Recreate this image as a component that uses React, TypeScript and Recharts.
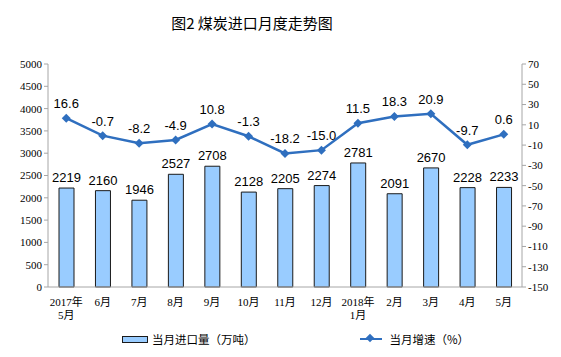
import React from 'react';
import { ComposedChart, Bar, Line, XAxis, YAxis, LabelList } from 'recharts';

const months = ['2017年\n5月', '6月', '7月', '8月', '9月', '10月', '11月', '12月', '2018年\n1月', '2月', '3月', '4月', '5月'];
const imports = [2219, 2160, 1946, 2527, 2708, 2128, 2205, 2274, 2781, 2091, 2670, 2228, 2233];
const growth = [16.6, -0.7, -8.2, -4.9, 10.8, -1.3, -18.2, -15.0, 11.5, 18.3, 20.9, -9.7, 0.6];
const leftTicks = [0, 500, 1000, 1500, 2000, 2500, 3000, 3500, 4000, 4500, 5000];
const rightTicks = [-150, -130, -110, -90, -70, -50, -30, -10, 10, 30, 50, 70];

const data = months.map((m, i) => ({ month: m, imports: imports[i], growth: growth[i] }));

const BAR_FILL = '#99ccff';
const LINE_COLOR = '#2f6fbf';
const AXIS = '#a6a6a6';
const tickFont = { fontFamily: '"Liberation Serif", "Noto Sans CJK SC", serif', fontSize: 11, fill: '#000' };
const labelFont = { fontFamily: '"Liberation Sans", Arial, sans-serif', fontSize: 13, fill: '#000' };

const MonthTick = (props: any) => {
  const { x, y, payload } = props;
  const lines = String(payload.value).split('\n');
  return (
    <g transform={`translate(${x},${y})`}>
      {lines.map((l, i) => (
        <text key={i} x={0} y={0} dy={11 + i * 13} textAnchor="middle" {...tickFont}>{l}</text>
      ))}
    </g>
  );
};

const Diamond = (props: any) => {
  const { cx, cy } = props;
  if (cx == null || cy == null) return null;
  return <path d={`M${cx},${cy - 4.5}L${cx + 4.5},${cy}L${cx},${cy + 4.5}L${cx - 4.5},${cy}Z`} fill={LINE_COLOR} />;
};

const App: React.FC = () => {
  return (
    <div style={{ position: 'absolute', left: 0, top: 0, width: 561, height: 357, background: '#fff' }}>
      <div style={{
        position: 'absolute', left: 0, width: 504, top: 12, textAlign: 'center',
        fontFamily: '"Noto Sans CJK SC", sans-serif', fontSize: 15, fontWeight: 400, color: '#000'
      }}>
        图2  煤炭进口月度走势图
      </div>
      <ComposedChart width={561} height={357} data={data} margin={{ top: 64, right: 0, bottom: 30, left: 0 }}>
        <XAxis dataKey="month" xAxisId={0} interval={0} tick={<MonthTick />} tickLine={false}
          axisLine={{ stroke: AXIS }} height={40} />
        <YAxis yAxisId="left" orientation="left" width={48} domain={[0, 5000]} ticks={leftTicks}
          interval={0} tick={tickFont} tickSize={4} tickLine={{ stroke: AXIS }} axisLine={{ stroke: AXIS }} />
        <YAxis yAxisId="right" orientation="right" width={39} domain={[-150, 70]} ticks={rightTicks}
          interval={0} tick={tickFont} tickSize={4} tickLine={{ stroke: AXIS }} axisLine={{ stroke: AXIS }} />
        <Bar yAxisId="left" dataKey="imports" barSize={15} fill={BAR_FILL} stroke="#1a1a1a" strokeWidth={1}
          isAnimationActive={false}>
          <LabelList dataKey="imports" position="top" offset={6} style={labelFont} />
        </Bar>
        <Line yAxisId="right" dataKey="growth" stroke={LINE_COLOR} strokeWidth={2.5} dot={<Diamond />}
          activeDot={false} isAnimationActive={false}>
          <LabelList dataKey="growth" position="top" offset={10} style={labelFont}
            formatter={(v: any) => Number(v).toFixed(1)} />
        </Line>
      </ComposedChart>
      <div style={{ position: 'absolute', top: 331, left: 122, display: 'flex', alignItems: 'center',
        fontFamily: '"Noto Sans CJK SC", sans-serif', fontSize: 11.5, color: '#000' }}>
        <span style={{ display: 'inline-block', width: 24, height: 5, background: BAR_FILL, border: '1px solid #1a1a1a', marginRight: 4 }} />
        <span>当月进口量（万吨）</span>
        <span style={{ display: 'inline-block', width: 22, height: 2.5, background: LINE_COLOR, marginLeft: 104, marginRight: 8, position: 'relative' }}>
          <span style={{ position: 'absolute', left: 7, top: -3, width: 6, height: 6, background: LINE_COLOR, transform: 'rotate(45deg)' }} />
        </span>
        <span>当月增速（%）</span>
      </div>
    </div>
  );
};

export default App;
